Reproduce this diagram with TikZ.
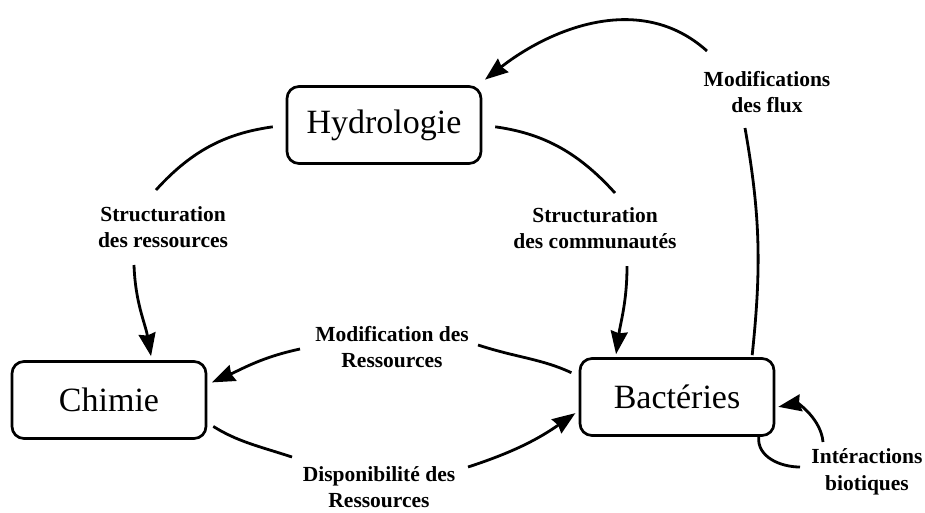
\documentclass[tikz,border=0pt]{standalone}
\usepackage{fontspec}
\setmainfont{Liberation Serif}
\usetikzlibrary{arrows.meta}
\tikzset{
  box/.style={draw, rounded corners=12pt, line width=2.7pt, minimum width=194pt,
              minimum height=77pt, inner sep=0pt, font=\fontsize{34}{40}\selectfont},
  lbl/.style={align=center, inner sep=0pt, font=\bfseries\fontsize{21.5}{26.5}\selectfont},
  link/.style={line width=2.8pt},
  flow/.style={link, -{Stealth[length=23pt, width=17pt, inset=2pt]}},
}

\begin{document}
\begin{tikzpicture}[x=1pt, y=1pt]
  \useasboundingbox (0,0) rectangle (925,-512);

  \node[box] (hyd)  at (384,-125) {Hydrologie};
  \node[box] (chim) at (109,-400) {Chimie};
  \node[box] (bact) at (677,-397) {Bactéries};

  \node[lbl] (lres)  at (163,-227) {Structuration\\des ressources};
  \node[lbl] (lcom)  at (595,-228) {Structuration\\des communautés};
  \node[lbl] (lmod)  at (392,-347) {Modification des\\Ressources};
  \node[lbl] (ldisp) at (379,-487) {Disponibilité des\\Ressources};
  \node[lbl] (lflux) at (767,-92)  {Modifications\\des flux};
  \node[lbl] (lint)  at (867,-472) {Intéractions\\biotiques};

  % free ends next to the labels
  \coordinate (c1)  at (156,-190);
  \coordinate (c2)  at (134,-265);
  \coordinate (c3)  at (615,-193);
  \coordinate (c4)  at (627,-266);
  \coordinate (c5)  at (478,-345);
  \coordinate (c6)  at (300,-349);
  \coordinate (c7)  at (292,-457);
  \coordinate (c8)  at (468,-467);
  \coordinate (c9)  at (745,-128);
  \coordinate (c10) at (707,-51);
  \coordinate (c11) at (800,-467);
  \coordinate (c12) at (823,-442);

  \draw[link, shorten <=13pt] (hyd.west) to[out=188, in=48] (c1);
  \draw[flow, shorten >=4pt] (c2) to[out=-88, in=100] (chim.43);

  \draw[link, shorten <=13pt] (hyd.east) to[out=-8, in=132] (c3);
  \draw[flow, shorten >=3pt] (c4) to[out=-90, in=82] (bact.147);

  \draw[link, shorten <=8pt] (bact.168) to[out=155, in=-18] (c5);
  \draw[flow, shorten >=5pt] (c6) to[out=192, in=24] (chim.9);

  \draw[link, shorten <=7pt] (chim.-13) to[out=-32, in=162] (c7);
  \draw[flow, shorten >=4pt] (c8) to[out=18, in=215] (bact.188);

  \draw[link, shorten <=2pt] (bact.28) to[out=84, in=-80] (c9);
  \draw[flow, shorten >=9pt] (c10) to[out=138, in=38] (hyd.23);

  \draw[link] (bact.-26) to[out=-95, in=180] (c11);
  \draw[flow, shorten >=3pt] (c12) to[out=95, in=10] (bact.-6);
\end{tikzpicture}
\end{document}
